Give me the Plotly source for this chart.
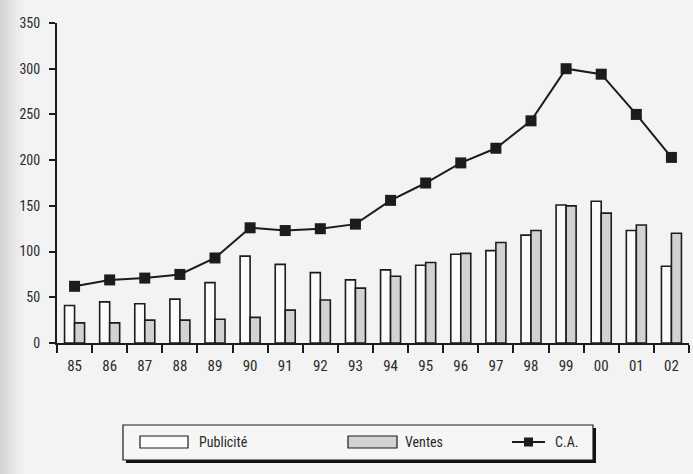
import plotly.graph_objects as go

years = ["85", "86", "87", "88", "89", "90", "91", "92", "93", "94",
         "95", "96", "97", "98", "99", "00", "01", "02"]
publicite = [41, 45, 43, 48, 66, 95, 86, 77, 69, 80, 85, 97, 101, 118, 151, 155, 123, 84]
ventes = [22, 22, 25, 25, 26, 28, 36, 47, 60, 73, 88, 98, 110, 123, 150, 142, 129, 120]
ca = [62, 69, 71, 75, 93, 126, 123, 125, 130, 156, 175, 197, 213, 243, 300, 294, 250, 203]
y_ticks = [0, 50, 100, 150, 200, 250, 300, 350]

FONT = "Liberation Sans Narrow, Arial Narrow, Roboto Condensed, Arial, sans-serif"
INK = "#1c1c1c"

W, H = 693, 474
L, R, T, B = 57, 4, 23, 131
PW, PH = W - L - R, H - T - B


def px(x):
    return (x - L) / PW


def py(y):
    return (H - B - y) / PH


fig = go.Figure()
fig.add_trace(go.Bar(x=years, y=publicite, name="Publicité",
                     marker=dict(color="#fbfbfb", line=dict(color=INK, width=1.6)),
                     showlegend=False))
fig.add_trace(go.Bar(x=years, y=ventes, name="Ventes",
                     marker=dict(color="#d2d2d2", line=dict(color=INK, width=1.6)),
                     showlegend=False))
fig.add_trace(go.Scatter(x=years, y=ca, name="C.A.", mode="lines+markers",
                         line=dict(color=INK, width=2),
                         marker=dict(symbol="square", size=11, color=INK),
                         showlegend=False))

shapes = []
# page background gradient on the left edge
grad = ["#d4d4d4", "#dadada", "#e0e0e0", "#e6e6e6", "#ebebeb", "#efefef"]
for i, c in enumerate(grad):
    shapes.append(dict(type="rect", xref="paper", yref="paper",
                       x0=px(i * 4), x1=px(i * 4 + 4), y0=py(H), y1=py(0),
                       fillcolor=c, line=dict(width=0), layer="below"))

# legend box with shadow
shapes.append(dict(type="rect", xref="paper", yref="paper",
                   x0=px(126), x1=px(596), y0=py(463), y1=py(428),
                   fillcolor="#111111", line=dict(width=0)))
shapes.append(dict(type="rect", xref="paper", yref="paper",
                   x0=px(123), x1=px(593), y0=py(460), y1=py(425),
                   fillcolor="#f6f6f6", line=dict(color=INK, width=1.2)))
shapes.append(dict(type="rect", xref="paper", yref="paper",
                   x0=px(140), x1=px(188), y0=py(448), y1=py(436),
                   fillcolor="#fbfbfb", line=dict(color=INK, width=1.2)))
shapes.append(dict(type="rect", xref="paper", yref="paper",
                   x0=px(348), x1=px(397), y0=py(448), y1=py(436),
                   fillcolor="#d2d2d2", line=dict(color=INK, width=1.2)))
shapes.append(dict(type="line", xref="paper", yref="paper",
                   x0=px(512), x1=px(545), y0=py(442), y1=py(442),
                   line=dict(color=INK, width=1.8)))
shapes.append(dict(type="rect", xref="paper", yref="paper",
                   x0=px(524), x1=px(533), y0=py(446.5), y1=py(437.5),
                   fillcolor=INK, line=dict(width=0)))

annotations = []
for text, x in [("Publicité", 197), ("Ventes", 403), ("C.A.", 553)]:
    annotations.append(dict(text=text, xref="paper", yref="paper",
                            x=px(x), y=py(442), xanchor="left", yanchor="middle",
                            showarrow=False,
                            font=dict(family=FONT, size=14, color="#2a2a2a")))

fig.update_layout(
    width=W, height=H,
    margin=dict(l=L, r=R, t=T, b=B),
    paper_bgcolor="#f3f3f3",
    plot_bgcolor="rgba(0,0,0,0)",
    barmode="group",
    bargap=0.43,
    bargroupgap=0.0,
    shapes=shapes,
    annotations=annotations,
    font=dict(family=FONT, size=13, color="#2a2a2a"),
    xaxis=dict(
        type="category",
        range=[-0.5, len(years) - 0.5],
        tickson="boundaries",
        ticks="outside", ticklen=8, tickwidth=1.8, tickcolor=INK,
        showline=True, linecolor=INK, linewidth=2,
        showgrid=False, zeroline=False,
        ticklabelstandoff=8,
        tickfont=dict(family=FONT, size=15, color="#2a2a2a"),
    ),
    yaxis=dict(
        range=[0, 350],
        tickvals=y_ticks,
        ticks="outside", ticklen=6, tickwidth=1.8, tickcolor=INK,
        showline=True, linecolor=INK, linewidth=2,
        showgrid=False, zeroline=False,
        ticklabelstandoff=6,
        tickfont=dict(family=FONT, size=14, color="#2a2a2a"),
    ),
)

fig.write_html("out.html",
               config={"displayModeBar": False},
               post_script="document.body.style.margin='0px';document.body.style.overflow='hidden';")
